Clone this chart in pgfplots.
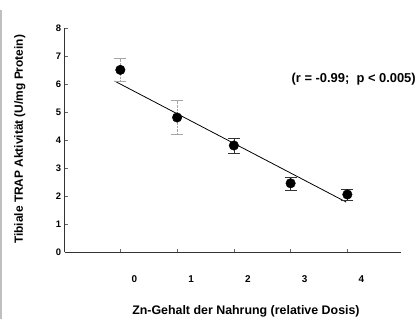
\documentclass[border=0pt]{standalone}
\usepackage{pgfplots}
\pgfplotsset{compat=1.18}
\usepackage{fontspec}
\setmainfont{Liberation Sans}
\begin{document}
\begin{tikzpicture}
\path (-65bp,-67bp) rectangle (354bp,253bp);
\draw[black!25, line width=1.2bp] (-64bp,-67bp) -- (-64bp,243bp);
\begin{axis}[
  scale only axis,
  width=338bp, height=225bp,
  xmin=-0.98, xmax=4.95, ymin=0, ymax=8,
  axis x line=bottom, axis y line=left,
  axis line style={-, line width=0.8pt, black!80},
  xtick={0,1,2,3,4},
  xticklabels={0,1,2,3,4},
  ytick={0,1,2,3,4,5,6,7,8},
  tick align=inside,
  major tick length=3bp,
  tick style={black!60, line width=0.4pt},
  /pgf/number format/assume math mode=true,
  xticklabel style={font=\fontsize{10}{11}\selectfont\bfseries, yshift=-20bp, xshift=14bp},
  yticklabel style={font=\fontsize{9.5}{10}\selectfont\bfseries, xshift=0bp},
  clip=false,
]
\addplot[black, line width=0.8pt, no marks] coordinates {(-0.1,6.1) (3.98,1.78)};
\addplot[only marks, mark=*, mark size=4.8bp, black,
  error bars/.cd, y dir=both, y explicit,
  error bar style={black!35, line width=0.4pt, densely dotted},
  error mark options={rotate=90, mark size=6bp, black!35}]
  coordinates {(0,6.5) +- (0,0.4) (1,4.8) +- (0,0.6)};
\addplot[only marks, mark=*, mark size=4.8bp, black,
  error bars/.cd, y dir=both, y explicit,
  error bar style={black!80, line width=0.5pt},
  error mark options={rotate=90, mark size=6bp, black!80}]
  coordinates {(2,3.8) +- (0,0.27) (3,2.45) +- (0,0.23) (4,2.05) +- (0,0.2)};
\end{axis}
\node[anchor=east, font=\fontsize{13}{14}\selectfont\bfseries] at (356bp,173bp) {(r = -0.99;\ \ p < 0.005)};
\node[font=\fontsize{12.5}{14}\selectfont\bfseries] at (182bp,-60bp) {Zn-Gehalt der Nahrung (relative Dosis)};
\node[rotate=90, font=\fontsize{12}{14}\selectfont\bfseries] at (-45bp,113bp) {Tibiale TRAP Aktivität (U/mg Protein)};
\end{tikzpicture}
\end{document}
